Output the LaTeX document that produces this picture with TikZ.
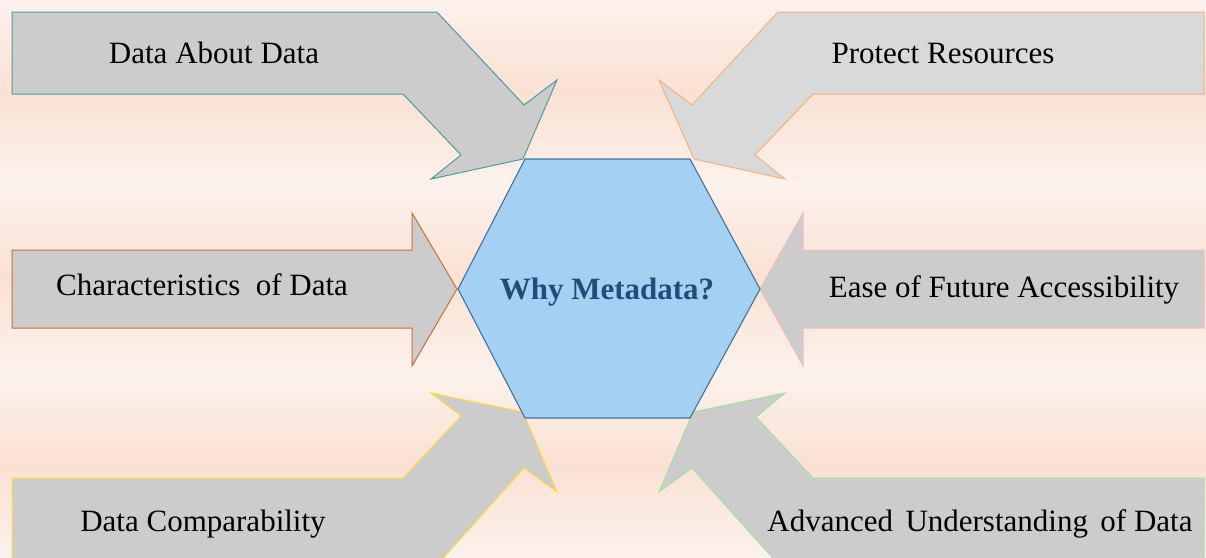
\documentclass[tikz,border=0pt]{standalone}
\usepackage{fontspec}
\setmainfont{Liberation Serif}
\begin{document}
\begin{tikzpicture}[x=1pt,y=-1pt,
  lbl/.style={font=\fontsize{31}{37}\selectfont, text=black, inner sep=0pt, anchor=base},
  arrowshape/.style={line width=1pt, line join=miter},
  hexshape/.style={fill=hexfill, draw=hexline, line width=1.1pt, line join=miter}]
\definecolor{bglight}{HTML}{FCF2EC}
\definecolor{bgpeach}{HTML}{FAE1D3}
\definecolor{grayA}{HTML}{CCCCCC}
\definecolor{grayB}{HTML}{D9D9D9}
\definecolor{tealline}{HTML}{4F9C9C}
\definecolor{orangeline}{HTML}{F4B183}
\definecolor{brownline}{HTML}{C8703A}
\definecolor{pinkline}{HTML}{F4BDBD}
\definecolor{goldline}{HTML}{FFDC3C}
\definecolor{greenline}{HTML}{A6DEA6}
\definecolor{hexfill}{HTML}{A4D0F4}
\definecolor{hexline}{HTML}{41719C}
\definecolor{titleblue}{HTML}{1F4E79}

\useasboundingbox (0,0) rectangle (1206,557);

% background: three soft horizontal bands
\shade[top color=bglight, bottom color=bglight, middle color=bgpeach] (0,0) rectangle (1206,186);
\shade[top color=bglight, bottom color=bglight, middle color=bgpeach] (0,186) rectangle (1206,372);
\shade[top color=bglight, bottom color=bglight, middle color=bgpeach] (0,372) rectangle (1206,557);

% top-left bent arrow
\draw[arrowshape, fill=grayA, draw=tealline]
  (12,12) -- (437,12) -- (524,105) -- (557,80) -- (523,159) -- (431,179)
  -- (461,155) -- (403,94) -- (12,94) -- cycle;

% top-right bent arrow
\draw[arrowshape, fill=grayB, draw=orangeline]
  (1204,12) -- (778,12) -- (692,105) -- (659,80) -- (694,159) -- (785,179)
  -- (755,155) -- (813,94) -- (1204,94) -- cycle;

% left straight arrow
\draw[arrowshape, fill=grayA, draw=brownline]
  (12,250) -- (412,250) -- (412,213) -- (457,289) -- (412,366) -- (412,328)
  -- (12,328) -- cycle;

% right straight arrow
\draw[arrowshape, fill=grayA, draw=pinkline]
  (1204,250) -- (803,250) -- (803,213) -- (760,289) -- (803,366) -- (803,328)
  -- (1204,328) -- cycle;

% bottom-left bent arrow
\draw[arrowshape, fill=grayA, draw=goldline]
  (12,478) -- (403,478) -- (461,416) -- (431,393) -- (523,412) -- (557,492)
  -- (524,468) -- (437,565) -- (12,565) -- cycle;

% bottom-right bent arrow
\draw[arrowshape, fill=grayA, draw=greenline]
  (1204,478) -- (813,478) -- (756,417) -- (785,393) -- (693,412) -- (659,492)
  -- (692,468) -- (779,565) -- (1204,565) -- cycle;

% central hexagon
\draw[hexshape] (525,159) -- (690,159) -- (760,289) -- (690,418) -- (525,418) -- (458,289) -- cycle;

% labels
\node[lbl] (hub) at (607,299) {\textcolor{titleblue}{\bfseries Why Metadata?}};
\node[lbl] (dad) at (214,63) {Data About Data};
\node[lbl] (pr)  at (943,63) {Protect Resources};
\node[lbl] (cod) at (202,295) {Characteristics\hspace{0.25em} of Data};
\node[lbl] (efa) at (1004,297) {Ease of Future Accessibility};
\node[lbl] (dc)  at (203,531) {Data Comparability};
\node[lbl] (aud) at (980,531) {Advanced\hspace{0.15em} Understanding\hspace{0.15em} of Data};
\end{tikzpicture}
\end{document}
